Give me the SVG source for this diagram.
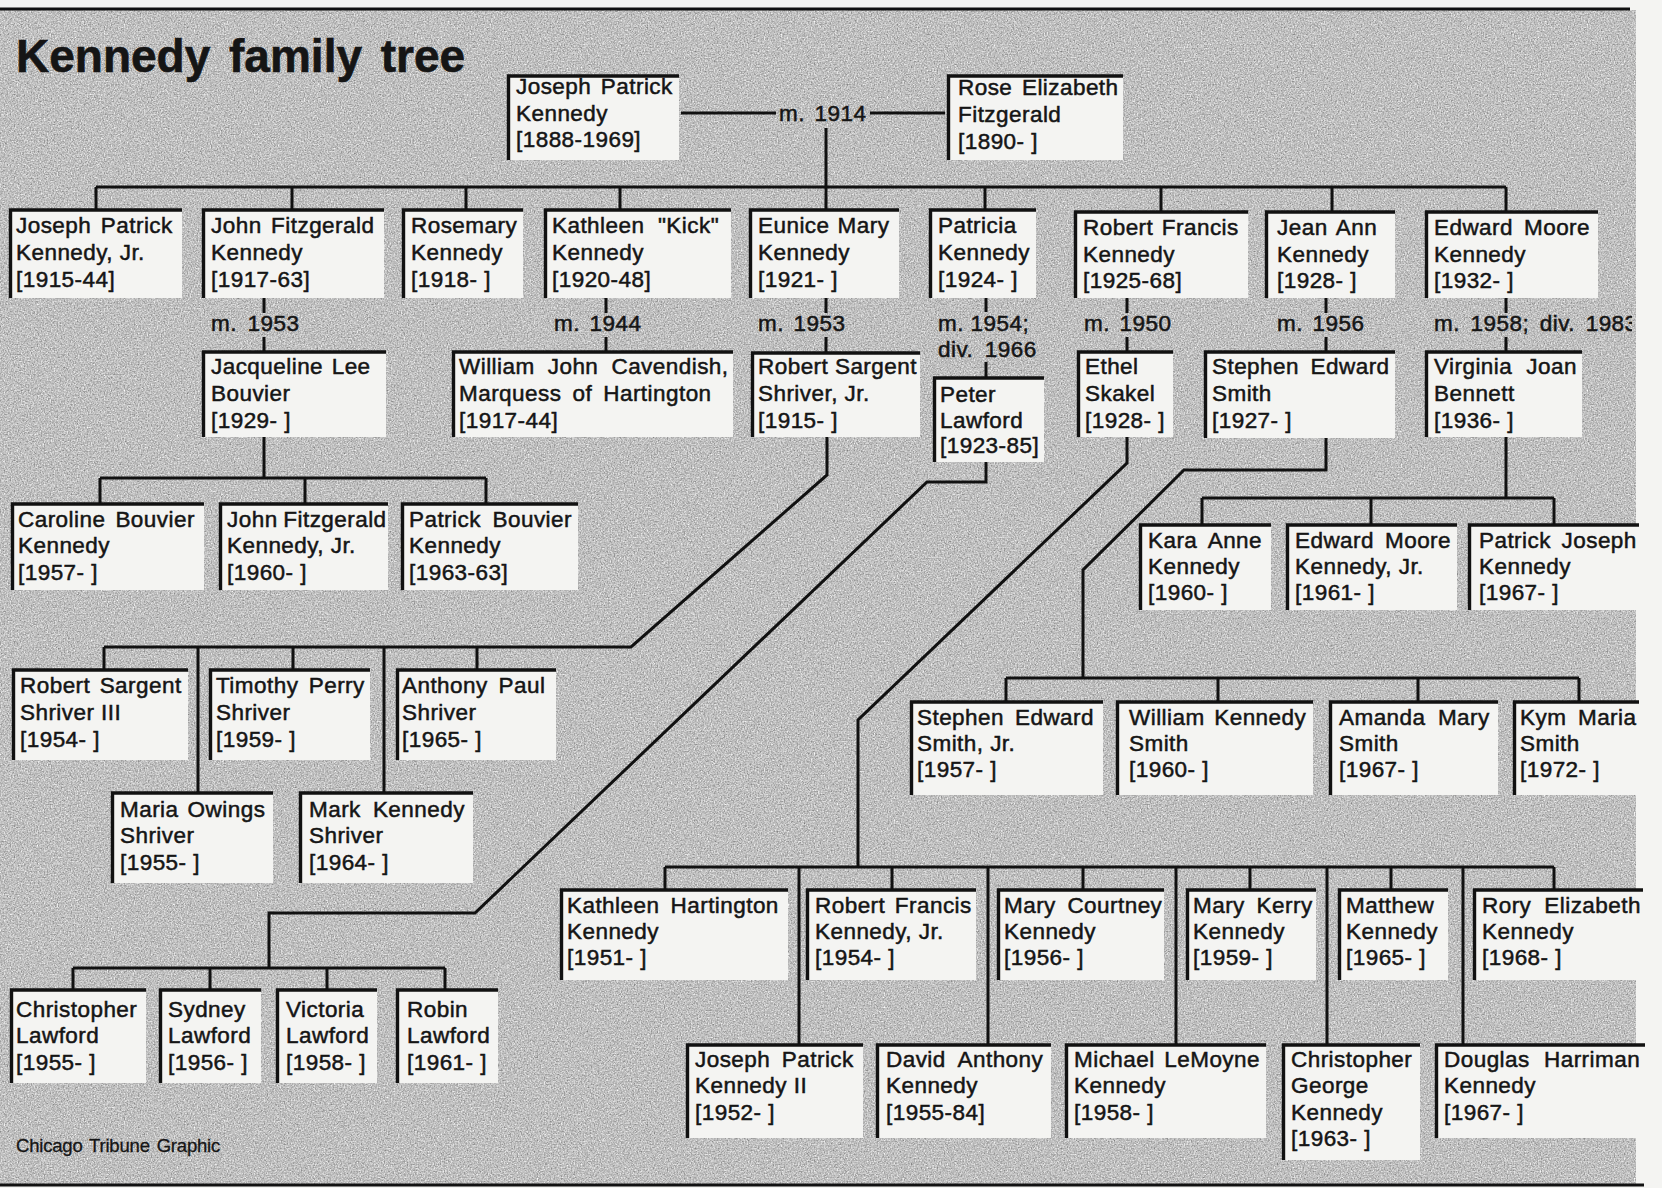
<svg xmlns="http://www.w3.org/2000/svg" width="1662" height="1188" viewBox="0 0 1662 1188">
<defs>
<filter id="grain" filterUnits="userSpaceOnUse" x="0" y="10" width="1636" height="1175" color-interpolation-filters="sRGB">
<feTurbulence type="fractalNoise" baseFrequency="0.7" numOctaves="2" seed="4" result="noise"/>
<feColorMatrix in="noise" type="matrix" values="0.5 0.5 0 0 0  0.5 0.5 0 0 0  0.5 0.5 0 0 0  0 0 0 0 1" result="gray"/>
<feComponentTransfer in="gray">
<feFuncR type="linear" slope="0.8" intercept="0.35"/>
<feFuncG type="linear" slope="0.8" intercept="0.35"/>
<feFuncB type="linear" slope="0.8" intercept="0.35"/>
</feComponentTransfer>
</filter>
<clipPath id="edge"><rect x="0" y="0" width="1632" height="1188"/></clipPath>
</defs>
<style>
.box{fill:#f4f4f2;stroke:none}
.frame{fill:none;stroke:#111;stroke-width:3.4}
.conn{fill:none;stroke:#111;stroke-width:3}
text{font-family:"Liberation Sans",Arial,Helvetica,sans-serif;font-size:22.5px;letter-spacing:0.45px;fill:#151515;stroke:#151515;stroke-width:0.5px}
.title{font-size:46px;font-weight:bold;letter-spacing:0;stroke-width:0.6px}
.credit{font-size:18.5px;letter-spacing:-0.2px;stroke-width:0.3px}
</style>
<rect x="0" y="0" width="1662" height="1188" fill="#f4f4f2"/>
<rect x="0" y="10" width="1636" height="1175" filter="url(#grain)"/>
<path class="conn" d="M0,9 H1630 M0,1185 H1644"/>
<text class="title" x="16" y="72" word-spacing="6">Kennedy family tree</text>
<text class="credit" x="16" y="1152" word-spacing="2">Chicago Tribune Graphic</text>

<g id="connectors">
<path class="conn" d="M681,113 H776 M870,113 H945 M826,128 V210"/>
<path class="conn" d="M96,187 H1506 M96,187 V210 M292,187 V210 M466,187 V210 M620,187 V210 M985,187 V210 M1161,187 V212 M1332,187 V212 M1506,187 V212"/>
<path class="conn" d="M264,298 V313 M264,337 V352 M606,298 V313 M606,337 V352 M826,298 V313 M826,337 V353 M986,298 V312 M986,362 V378 M1127,298 V313 M1127,337 V352 M1326,298 V313 M1326,337 V352 M1506,298 V313 M1506,337 V352"/>
<path class="conn" d="M264,437 V478 M100,478 H486 M100,478 V504 M305,478 V504 M486,478 V504"/>
<path class="conn" d="M827,437 V475 L631,647 H104 M104,647 V670 M293,647 V670 M477,647 V670 M198,647 V793 M384,647 V793"/>
<path class="conn" d="M986,462 V482 H927 L475,913 H269 V968 M73,968 H445 M73,968 V990 M210,968 V990 M327,968 V990 M445,968 V990"/>
<path class="conn" d="M1127,437 V463 L858,720 V867 M665,867 H1554 M665,867 V890 M892,867 V890 M1083,867 V890 M1250,867 V890 M1391,867 V890 M1554,867 V890 M799,867 V1045 M988,867 V1045 M1176,867 V1045 M1327,867 V1045 M1463,867 V1045"/>
<path class="conn" d="M1326,438 V470 H1184 L1083,570 V678 M1006,678 H1579 M1006,678 V702 M1218,678 V702 M1418,678 V702 M1579,678 V702"/>
<path class="conn" d="M1506,437 V498 M1202,498 H1554 M1202,498 V525 M1371,498 V525 M1554,498 V525"/>
<text x="779" y="121" word-spacing="3">m. 1914</text>
<text x="211" y="331" word-spacing="4">m. 1953</text>
<text x="554" y="331" word-spacing="3">m. 1944</text>
<text x="758" y="331" word-spacing="3">m. 1953</text>
<text x="938" y="331" word-spacing="0">m. 1954;</text>
<text x="938" y="357" word-spacing="5">div. 1966</text>
<text x="1084" y="331" word-spacing="3">m. 1950</text>
<text x="1277" y="331" word-spacing="3">m. 1956</text>
<text x="1434" y="331" word-spacing="4" clip-path="url(#edge)">m. 1958; div. 1983</text>
</g>

<g id="n-joseph-sr"><rect class="box" x="507" y="76" width="172" height="84"/><path class="frame" d="M508.5,160 V76 H679"/><text x="516" y="94" word-spacing="2.9">Joseph Patrick</text><text x="516" y="121">Kennedy</text><text x="516" y="147">[1888-1969]</text></g>
<g id="n-rose"><rect class="box" x="947" y="76" width="176" height="84"/><path class="frame" d="M948.5,160 V76 H1123"/><text x="958" y="95" word-spacing="2.9">Rose Elizabeth</text><text x="958" y="122">Fitzgerald</text><text x="958" y="149">[1890- ]</text></g>

<g id="n-joseph-jr"><rect class="box" x="9" y="210" width="173" height="88"/><path class="frame" d="M10.5,298 V210 H182"/><text x="16" y="233" word-spacing="2.9">Joseph Patrick</text><text x="16" y="260">Kennedy, Jr.</text><text x="16" y="287">[1915-44]</text></g>
<g id="n-jfk"><rect class="box" x="202" y="210" width="182" height="88"/><path class="frame" d="M203.5,298 V210 H384"/><text x="211" y="233" word-spacing="2.8">John Fitzgerald</text><text x="211" y="260">Kennedy</text><text x="211" y="287">[1917-63]</text></g>
<g id="n-rosemary"><rect class="box" x="402" y="210" width="121" height="88"/><path class="frame" d="M403.5,298 V210 H523"/><text x="411" y="233">Rosemary</text><text x="411" y="260">Kennedy</text><text x="411" y="287">[1918- ]</text></g>
<g id="n-kathleen"><rect class="box" x="544" y="210" width="187" height="88"/><path class="frame" d="M545.5,298 V210 H731"/><text x="552" y="233" word-spacing="6.8">Kathleen "Kick"</text><text x="552" y="260">Kennedy</text><text x="552" y="287">[1920-48]</text></g>
<g id="n-eunice"><rect class="box" x="749" y="210" width="150" height="88"/><path class="frame" d="M750.5,298 V210 H899"/><text x="758" y="233" word-spacing="1.4">Eunice Mary</text><text x="758" y="260">Kennedy</text><text x="758" y="287">[1921- ]</text></g>
<g id="n-patricia"><rect class="box" x="929" y="210" width="107" height="88"/><path class="frame" d="M930.5,298 V210 H1036"/><text x="938" y="233">Patricia</text><text x="938" y="260">Kennedy</text><text x="938" y="287">[1924- ]</text></g>
<g id="n-rfk"><rect class="box" x="1074" y="212" width="174" height="86"/><path class="frame" d="M1075.5,298 V212 H1248"/><text x="1083" y="235" word-spacing="1.9">Robert Francis</text><text x="1083" y="262">Kennedy</text><text x="1083" y="288">[1925-68]</text></g>
<g id="n-jean"><rect class="box" x="1265" y="212" width="130" height="86"/><path class="frame" d="M1266.5,298 V212 H1395"/><text x="1277" y="235" word-spacing="2.7">Jean Ann</text><text x="1277" y="262">Kennedy</text><text x="1277" y="288">[1928- ]</text></g>
<g id="n-ted"><rect class="box" x="1425" y="212" width="173" height="86"/><path class="frame" d="M1426.5,298 V212 H1598"/><text x="1434" y="235" word-spacing="4.3">Edward Moore</text><text x="1434" y="262">Kennedy</text><text x="1434" y="288">[1932- ]</text></g>

<g id="n-jacqueline"><rect class="box" x="202" y="352" width="184" height="85"/><path class="frame" d="M203.5,437 V352 H386"/><text x="211" y="374" word-spacing="1.9">Jacqueline Lee</text><text x="211" y="401">Bouvier</text><text x="211" y="428">[1929- ]</text></g>
<g id="n-cavendish"><rect class="box" x="452" y="352" width="281" height="85"/><path class="frame" d="M453.5,437 V352 H733"/><text x="459" y="374" word-spacing="6.4">William John Cavendish,</text><text x="459" y="401" word-spacing="4.4">Marquess of Hartington</text><text x="459" y="428">[1917-44]</text></g>
<g id="n-shriver-jr"><rect class="box" x="751" y="353" width="169" height="84"/><path class="frame" d="M752.5,437 V353 H920"/><text x="758" y="374" word-spacing="0">Robert Sargent</text><text x="758" y="401">Shriver, Jr.</text><text x="758" y="428">[1915- ]</text></g>
<g id="n-lawford"><rect class="box" x="933" y="378" width="111" height="84"/><path class="frame" d="M934.5,462 V378 H1044"/><text x="940" y="402">Peter</text><text x="940" y="428">Lawford</text><text x="940" y="453">[1923-85]</text></g>
<g id="n-ethel"><rect class="box" x="1077" y="352" width="96" height="85"/><path class="frame" d="M1078.5,437 V352 H1173"/><text x="1085" y="374">Ethel</text><text x="1085" y="401">Skakel</text><text x="1085" y="428">[1928- ]</text></g>
<g id="n-smith"><rect class="box" x="1204" y="352" width="191" height="86"/><path class="frame" d="M1205.5,438 V352 H1395"/><text x="1212" y="374" word-spacing="4.9">Stephen Edward</text><text x="1212" y="401">Smith</text><text x="1212" y="428">[1927- ]</text></g>
<g id="n-virginia"><rect class="box" x="1425" y="352" width="157" height="85"/><path class="frame" d="M1426.5,437 V352 H1582"/><text x="1434" y="374" word-spacing="7.4">Virginia Joan</text><text x="1434" y="401">Bennett</text><text x="1434" y="428">[1936- ]</text></g>

<g id="n-caroline"><rect class="box" x="11" y="504" width="193" height="86"/><path class="frame" d="M12.5,590 V504 H204"/><text x="18" y="527" word-spacing="3.3">Caroline Bouvier</text><text x="18" y="553">Kennedy</text><text x="18" y="580">[1957- ]</text></g>
<g id="n-jfk-jr"><rect class="box" x="219" y="504" width="169" height="86"/><path class="frame" d="M220.5,590 V504 H388"/><text x="227" y="527" word-spacing="-1">John Fitzgerald</text><text x="227" y="553">Kennedy, Jr.</text><text x="227" y="580">[1960- ]</text></g>
<g id="n-patrick-bouvier"><rect class="box" x="401" y="504" width="177" height="86"/><path class="frame" d="M402.5,590 V504 H578"/><text x="409" y="527" word-spacing="4.9">Patrick Bouvier</text><text x="409" y="553">Kennedy</text><text x="409" y="580">[1963-63]</text></g>

<g id="n-robert-shriver-iii"><rect class="box" x="12" y="670" width="176" height="90"/><path class="frame" d="M13.5,760 V670 H188"/><text x="20" y="693" word-spacing="2.7">Robert Sargent</text><text x="20" y="720">Shriver III</text><text x="20" y="747">[1954- ]</text></g>
<g id="n-timothy"><rect class="box" x="209" y="670" width="161" height="90"/><path class="frame" d="M210.5,760 V670 H370"/><text x="216" y="693" word-spacing="3.7">Timothy Perry</text><text x="216" y="720">Shriver</text><text x="216" y="747">[1959- ]</text></g>
<g id="n-anthony"><rect class="box" x="396" y="670" width="160" height="90"/><path class="frame" d="M397.5,760 V670 H556"/><text x="402" y="693" word-spacing="4.1">Anthony Paul</text><text x="402" y="720">Shriver</text><text x="402" y="747">[1965- ]</text></g>
<g id="n-maria"><rect class="box" x="111" y="793" width="162" height="90"/><path class="frame" d="M112.5,883 V793 H273"/><text x="120" y="817" word-spacing="2.4">Maria Owings</text><text x="120" y="843">Shriver</text><text x="120" y="870">[1955- ]</text></g>
<g id="n-mark"><rect class="box" x="299" y="793" width="174" height="90"/><path class="frame" d="M300.5,883 V793 H473"/><text x="309" y="817" word-spacing="5.4">Mark Kennedy</text><text x="309" y="843">Shriver</text><text x="309" y="870">[1964- ]</text></g>

<g id="n-christopher-lawford"><rect class="box" x="10" y="990" width="136" height="93"/><path class="frame" d="M11.5,1083 V990 H146"/><text x="16" y="1017">Christopher</text><text x="16" y="1043">Lawford</text><text x="16" y="1070">[1955- ]</text></g>
<g id="n-sydney"><rect class="box" x="159" y="990" width="102" height="93"/><path class="frame" d="M160.5,1083 V990 H261"/><text x="168" y="1017">Sydney</text><text x="168" y="1043">Lawford</text><text x="168" y="1070">[1956- ]</text></g>
<g id="n-victoria"><rect class="box" x="276" y="990" width="101" height="93"/><path class="frame" d="M277.5,1083 V990 H377"/><text x="286" y="1017">Victoria</text><text x="286" y="1043">Lawford</text><text x="286" y="1070">[1958- ]</text></g>
<g id="n-robin"><rect class="box" x="396" y="990" width="102" height="93"/><path class="frame" d="M397.5,1083 V990 H498"/><text x="407" y="1017">Robin</text><text x="407" y="1043">Lawford</text><text x="407" y="1070">[1961- ]</text></g>

<g id="n-kara"><rect class="box" x="1139" y="525" width="132" height="85"/><path class="frame" d="M1140.5,610 V525 H1271"/><text x="1148" y="548" word-spacing="4.9">Kara Anne</text><text x="1148" y="574">Kennedy</text><text x="1148" y="600">[1960- ]</text></g>
<g id="n-ted-jr"><rect class="box" x="1286" y="525" width="171" height="85"/><path class="frame" d="M1287.5,610 V525 H1457"/><text x="1295" y="548" word-spacing="4.3">Edward Moore</text><text x="1295" y="574">Kennedy, Jr.</text><text x="1295" y="600">[1961- ]</text></g>
<g id="n-patrick-joseph"><rect class="box" x="1468" y="525" width="171" height="85"/><path class="frame" d="M1469.5,610 V525 H1639"/><text x="1479" y="548" word-spacing="3.9">Patrick Joseph</text><text x="1479" y="574">Kennedy</text><text x="1479" y="600">[1967- ]</text></g>

<g id="n-stephen-jr"><rect class="box" x="910" y="702" width="193" height="93"/><path class="frame" d="M911.5,795 V702 H1103"/><text x="917" y="725" word-spacing="4.3">Stephen Edward</text><text x="917" y="751">Smith, Jr.</text><text x="917" y="777">[1957- ]</text></g>
<g id="n-william-smith"><rect class="box" x="1116" y="702" width="197" height="93"/><path class="frame" d="M1117.5,795 V702 H1313"/><text x="1129" y="725" word-spacing="2.9">William Kennedy</text><text x="1129" y="751">Smith</text><text x="1129" y="777">[1960- ]</text></g>
<g id="n-amanda"><rect class="box" x="1329" y="702" width="169" height="93"/><path class="frame" d="M1330.5,795 V702 H1498"/><text x="1339" y="725" word-spacing="5.7">Amanda Mary</text><text x="1339" y="751">Smith</text><text x="1339" y="777">[1967- ]</text></g>
<g id="n-kym"><rect class="box" x="1513" y="702" width="126" height="93"/><path class="frame" d="M1514.5,795 V702 H1639"/><text x="1520" y="725" word-spacing="4.9">Kym Maria</text><text x="1520" y="751">Smith</text><text x="1520" y="777">[1972- ]</text></g>

<g id="n-kathleen-h"><rect class="box" x="560" y="890" width="228" height="90"/><path class="frame" d="M561.5,980 V890 H788"/><text x="567" y="913" word-spacing="4.4">Kathleen Hartington</text><text x="567" y="939">Kennedy</text><text x="567" y="965">[1951- ]</text></g>
<g id="n-rfk-jr"><rect class="box" x="806" y="890" width="170" height="90"/><path class="frame" d="M807.5,980 V890 H976"/><text x="815" y="913" word-spacing="2.9">Robert Francis</text><text x="815" y="939">Kennedy, Jr.</text><text x="815" y="965">[1954- ]</text></g>
<g id="n-mary-courtney"><rect class="box" x="997" y="890" width="167" height="90"/><path class="frame" d="M998.5,980 V890 H1164"/><text x="1004" y="913" word-spacing="4.9">Mary Courtney</text><text x="1004" y="939">Kennedy</text><text x="1004" y="965">[1956- ]</text></g>
<g id="n-mary-kerry"><rect class="box" x="1186" y="890" width="130" height="90"/><path class="frame" d="M1187.5,980 V890 H1316"/><text x="1193" y="913" word-spacing="5.1">Mary Kerry</text><text x="1193" y="939">Kennedy</text><text x="1193" y="965">[1959- ]</text></g>
<g id="n-matthew"><rect class="box" x="1338" y="890" width="110" height="90"/><path class="frame" d="M1339.5,980 V890 H1448"/><text x="1346" y="913">Matthew</text><text x="1346" y="939">Kennedy</text><text x="1346" y="965">[1965- ]</text></g>
<g id="n-rory"><rect class="box" x="1473" y="890" width="170" height="90"/><path class="frame" d="M1474.5,980 V890 H1643"/><text x="1482" y="913" word-spacing="6.3">Rory Elizabeth</text><text x="1482" y="939">Kennedy</text><text x="1482" y="965">[1968- ]</text></g>

<g id="n-joseph-ii"><rect class="box" x="686" y="1045" width="177" height="93"/><path class="frame" d="M687.5,1138 V1045 H863"/><text x="695" y="1067" word-spacing="4.9">Joseph Patrick</text><text x="695" y="1093">Kennedy II</text><text x="695" y="1120">[1952- ]</text></g>
<g id="n-david"><rect class="box" x="876" y="1045" width="175" height="93"/><path class="frame" d="M877.5,1138 V1045 H1051"/><text x="886" y="1067" word-spacing="6.3">David Anthony</text><text x="886" y="1093">Kennedy</text><text x="886" y="1120">[1955-84]</text></g>
<g id="n-michael"><rect class="box" x="1065" y="1045" width="201" height="93"/><path class="frame" d="M1066.5,1138 V1045 H1266"/><text x="1074" y="1067" word-spacing="2.9">Michael LeMoyne</text><text x="1074" y="1093">Kennedy</text><text x="1074" y="1120">[1958- ]</text></g>
<g id="n-christopher-g"><rect class="box" x="1282" y="1045" width="138" height="115"/><path class="frame" d="M1283.5,1160 V1045 H1420"/><text x="1291" y="1067">Christopher</text><text x="1291" y="1093">George</text><text x="1291" y="1120">Kennedy</text><text x="1291" y="1146">[1963- ]</text></g>
<g id="n-douglas"><rect class="box" x="1435" y="1045" width="210" height="93"/><path class="frame" d="M1436.5,1138 V1045 H1645"/><text x="1444" y="1067" word-spacing="7.6">Douglas Harriman</text><text x="1444" y="1093">Kennedy</text><text x="1444" y="1120">[1967- ]</text></g>
</svg>
